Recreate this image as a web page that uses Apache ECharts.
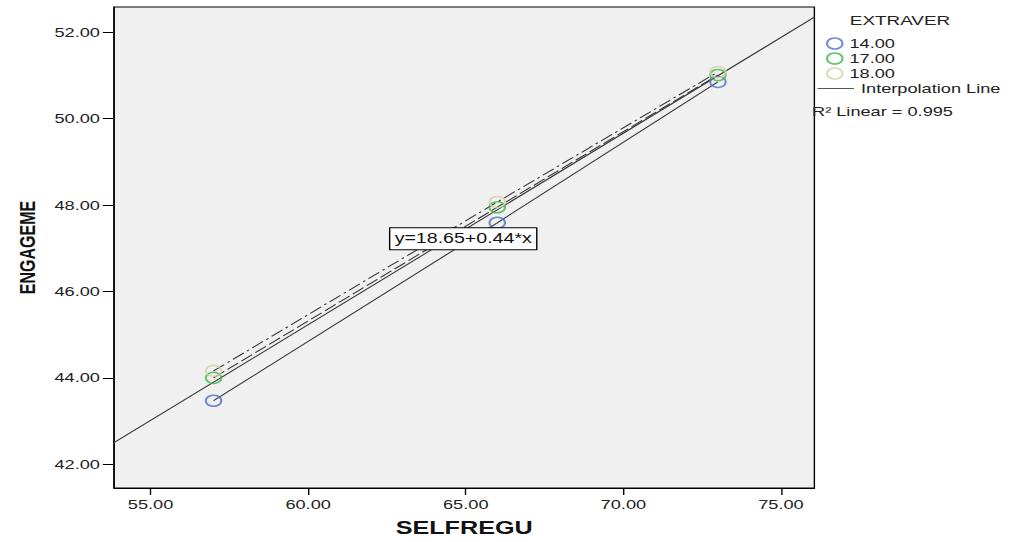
<!DOCTYPE html>
<html>
<head>
<meta charset="utf-8">
<title>ENGAGEME by SELFREGU</title>
<style>
    html, body { margin: 0; padding: 0; background: #fff; overflow: hidden; }
    /* the source picture is stretched sideways ~1.4x, so draw narrow and widen it */
    #main { width: 720.7px; height: 542px; transform: scaleX(1.4); transform-origin: 0 0; }
</style>
</head>
<body>
<div id="main"></div>
<script src="https://cdn.jsdelivr.net/npm/echarts@6/dist/echarts.min.js"></script>
<script type="text/javascript">
    // EXTRAVER groups
    var groups = ['14.00', '17.00', '18.00'];
    // SELFREGU values shared by every group
    var selfregu = [57, 66, 73];
    // ENGAGEME per group
    var engage14 = [43.47, 47.59, 50.85];
    var engage17 = [44.00, 47.95, 51.01];
    var engage18 = [44.16, 48.07, 51.08];
    // total linear fit, ends of the drawn line
    var fitX = [53.84, 76.06];
    var fitY = [42.50, 52.35];
    var fitText = 'y=18.65+0.44*x';
    var r2Text = 'R\u00b2 Linear = 0.995';
    // tick labels
    var xTicks = [55, 60, 65, 70, 75];
    var yTicks = [42, 44, 46, 48, 50, 52];

    var font = '"Liberation Sans", Arial, sans-serif';
    var colors = ['#4e6fc8', '#3ab54a', '#d6d19f'];
    var lineColor = '#3a3a3a';
    var dashes = ['solid', [10, 3], [10, 3, 2, 3]];
    var allY = [engage14, engage17, engage18];

    function pairs(xs, ys) {
        return xs.map(function (x, i) { return [x, ys[i]]; });
    }

    var series = [];
    // fit line with equation box
    series.push({
        name: 'Linear fit',
        type: 'line',
        data: pairs(fitX, fitY),
        symbol: 'none',
        lineStyle: { color: lineColor, width: 1 },
        z: 1,
        markPoint: {
            symbol: 'rect',
            symbolSize: 1,
            itemStyle: { color: 'rgba(0,0,0,0)' },
            label: {
                show: true,
                position: 'inside',
                formatter: fitText,
                fontFamily: font,
                fontSize: 14,
                color: '#111',
                backgroundColor: '#fff',
                borderColor: '#000',
                borderWidth: 1,
                padding: [4, 3, 3, 3]
            },
            data: [{ coord: [64.92, 47.22] }]
        }
    });
    // interpolation lines per group
    groups.forEach(function (g, i) {
        series.push({
            name: 'Interpolation Line',
            type: 'line',
            data: pairs(selfregu, allY[i]),
            symbol: 'none',
            lineStyle: { color: lineColor, width: 1, type: dashes[i] },
            z: 2
        });
    });
    // points
    groups.forEach(function (g, i) {
        series.push({
            name: g,
            type: 'scatter',
            data: pairs(selfregu, allY[i]),
            symbol: 'circle',
            symbolSize: 11,
            itemStyle: { color: 'rgba(0,0,0,0)', borderColor: colors[i], borderWidth: 1.5 },
            z: 3
        });
    });

    var myChart = echarts.init(document.getElementById('main'), null, { renderer: 'svg' });
    myChart.setOption({
        animation: false,
        title: [
            { text: 'EXTRAVER', left: 607, top: 13, padding: 0, textStyle: { fontFamily: font, fontSize: 13.5, fontWeight: 'normal', color: '#222' } },
            { text: r2Text, left: 580, top: 105, padding: 0, textStyle: { fontFamily: font, fontSize: 13, fontWeight: 'normal', color: '#222' } }
        ],
        legend: [
            {
                data: groups.map(function (g, i) {
                    return { name: g, icon: 'circle', itemStyle: { color: 'rgba(0,0,0,0)', borderColor: colors[i], borderWidth: 1.5 } };
                }),
                orient: 'vertical',
                left: 590,
                top: 37,
                padding: 0,
                itemWidth: 11,
                itemHeight: 11,
                itemGap: 2,
                itemTextGap: 8,
                selectedMode: false,
                textStyle: { fontFamily: font, fontSize: 13, color: '#222', lineHeight: 13 }
            },
            {
                data: [{ name: 'Interpolation Line', icon: 'rect', itemStyle: { color: '#555' } }],
                orient: 'vertical',
                left: 584,
                top: 82,
                padding: 0,
                itemWidth: 26,
                itemHeight: 1.2,
                itemTextGap: 2,
                selectedMode: false,
                textStyle: { fontFamily: font, fontSize: 13, color: '#222' }
            }
        ],
        grid: {
            left: 81.4, right: 139.3, top: 7, bottom: 51,
            show: true, backgroundColor: '#f0f0f0', borderColor: '#000', borderWidth: 1
        },
        xAxis: {
            type: 'value',
            min: fitX[0], max: fitX[1],
            name: 'SELFREGU',
            nameLocation: 'middle',
            nameGap: 31,
            nameTextStyle: { fontFamily: font, fontSize: 18, fontWeight: 'bold', color: '#111' },
            axisLine: { show: true, lineStyle: { color: '#000' } },
            axisTick: { show: true, length: 7, customValues: xTicks, lineStyle: { color: '#000' } },
            axisLabel: {
                customValues: xTicks, margin: 10,
                fontFamily: font, fontSize: 13, color: '#222',
                formatter: function (v) { return v.toFixed(2); }
            },
            splitLine: { show: false }
        },
        yAxis: {
            type: 'value',
            min: 41.45, max: 52.585,
            name: 'ENGAGEME',
            nameLocation: 'middle',
            nameGap: 54,
            nameTextStyle: { fontFamily: font, fontSize: 16, fontWeight: 'bold', color: '#111' },
            axisLine: { show: true, lineStyle: { color: '#000' } },
            axisTick: { show: true, length: 8, customValues: yTicks, lineStyle: { color: '#000' } },
            axisLabel: {
                customValues: yTicks, margin: 10,
                fontFamily: font, fontSize: 13, color: '#222',
                formatter: function (v) { return v.toFixed(2); }
            },
            splitLine: { show: false }
        },
        series: series
    });
</script>
</body>
</html>
